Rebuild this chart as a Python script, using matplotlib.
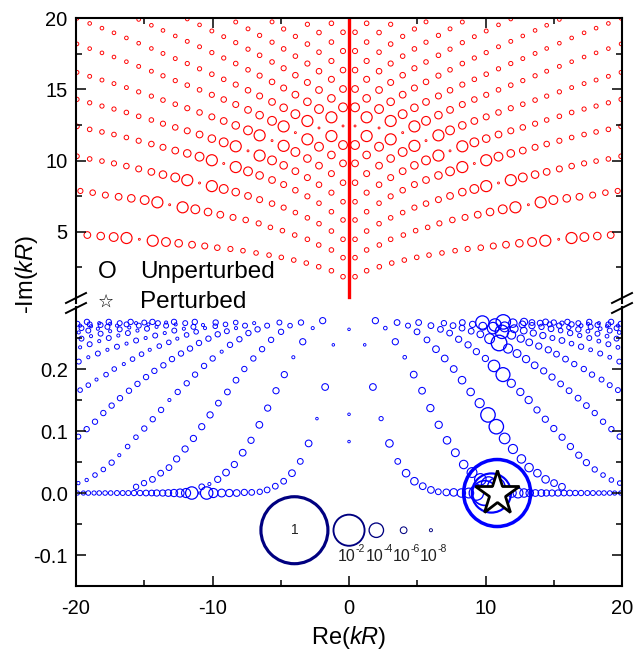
import numpy as np
import matplotlib
matplotlib.use("Agg")
import matplotlib.pyplot as plt
from matplotlib.lines import Line2D

plt.rcParams['font.family'] = ['Liberation Sans', 'DejaVu Sans']
plt.rcParams['mathtext.fontset'] = 'custom'
plt.rcParams['mathtext.rm'] = 'Liberation Sans'
plt.rcParams['mathtext.it'] = 'Liberation Sans:italic'
plt.rcParams['axes.unicode_minus'] = False

# ---------------- data ----------------
# Unperturbed modes (red). Right half only; the left half is its mirror image.
# y = -Im(kR), a = log10 of the mode weight (sets the bubble size)
red_grid_x = [0.44, 1.29, 2.2, 3.05, 3.93, 4.79, 5.64, 6.55, 7.4, 8.3, 9.18, 10.05,
              10.95, 11.85, 12.73, 13.63, 14.48, 15.41, 16.31, 17.22, 18.1, 19.0, 19.93]
red_x0 = [0.44, 1.29, 2.22, 3.13, 4.05, 4.96, 5.86, 6.81, 7.77, 8.69, 9.65, 10.57,
          11.5, 12.48, 13.41, 14.38, 15.36, 16.3, 17.24, 18.19, 19.17]
red_y0 = [1.83, 2.25, 2.53, 2.79, 3.0, 3.19, 3.35, 3.5, 3.66, 3.78, 3.87, 3.99,
          4.08, 4.18, 4.27, 4.36, 4.46, 4.55, 4.62, 4.69, 4.76]
red_a0 = [-7.0, -7.0, -7.0, -7.0, -7.0, -7.0, -7.0, -7.0, -7.0, -6.7, -6.5, -6.3,
          -6.0, -5.7, -5.3, -4.7, -9.2, -4.7, -5.3, -5.7, -6.0]
red_x1 = [0.44, 1.29, 2.22, 3.05, 3.98, 4.88, 5.76, 6.62, 7.57, 8.5, 9.43, 10.33,
          11.26, 12.19, 13.14, 14.04, 14.97, 15.95, 16.88, 17.85, 18.78, 19.68]
red_y1 = [3.17, 3.71, 4.06, 4.46, 4.76, 5.07, 5.3, 5.58, 5.82, 6.0, 6.19, 6.38,
          6.57, 6.71, 6.89, 7.06, 7.22, 7.34, 7.45, 7.57, 7.74, 7.86]
red_a1 = [-7.0, -7.0, -7.0, -7.0, -7.0, -7.0, -7.0, -6.7, -6.5, -6.3, -6.0, -5.7,
          -5.3, -4.7, -9.2, -4.7, -5.3, -5.7, -6.0, -6.3, -6.5, -6.7]
red_y2 = [4.46, 5.04, 5.56, 5.97, 6.34, 6.69, 6.97, 7.25, 7.51, 7.78, 8.0, 8.2,
          8.42, 8.62, 8.81, 9.01, 9.2, 9.41, 9.61, 9.8, 9.96, 10.11, 10.3]
red_a2 = [-7.0, -7.0, -7.0, -7.0, -7.0, -6.7, -6.5, -6.3, -6.0, -5.7, -5.3, -4.7,
          -9.2, -4.7, -5.3, -5.7, -6.0, -6.3, -6.5, -6.7, -7.0, -7.0, -7.0]
red_y3 = [5.82, 6.4, 7.0, 7.48, 7.91, 8.31, 8.63, 8.95, 9.24, 9.54, 9.79, 10.02,
          10.27, 10.5, 10.7, 10.93, 11.16, 11.39, 11.62, 11.83, 12.01, 12.19, 12.4]
red_a3 = [-7.0, -7.0, -7.0, -6.7, -6.5, -6.3, -6.0, -5.7, -5.3, -4.7, -9.2, -4.7,
          -5.3, -5.7, -6.0, -6.3, -6.5, -6.7, -7.0, -7.0, -7.0, -7.0, -7.0]
red_y4 = [7.1, 7.74, 8.3, 8.8, 9.25, 9.66, 10.01, 10.35, 10.68, 11.0, 11.28, 11.54,
          11.83, 12.09, 12.33, 12.59, 12.85, 13.11, 13.38, 13.62, 13.83, 14.06, 14.3]
red_a4 = [-7.0, -6.7, -6.5, -6.3, -6.0, -5.7, -5.3, -4.7, -9.2, -4.7, -5.3, -5.7,
          -6.0, -6.3, -6.5, -6.7, -7.0, -7.0, -7.0, -7.2, -7.2, -7.2, -7.2]
red_y5 = [8.44, 9.08, 9.64, 10.14, 10.6, 11.03, 11.4, 11.77, 12.12, 12.47, 12.78, 13.07,
          13.38, 13.68, 13.96, 14.25, 14.53, 14.83, 15.13, 15.41, 15.66, 15.92, 16.2]
red_a5 = [-6.5, -6.3, -6.0, -5.7, -5.3, -4.7, -9.2, -4.7, -5.3, -5.7, -6.0, -6.3,
          -6.5, -6.7, -7.0, -7.0, -7.2, -7.2, -7.4, -7.4, -7.4, -7.4, -7.4]
red_y6 = [9.8, 10.39, 10.97, 11.49, 11.96, 12.4, 12.79, 13.19, 13.56, 13.94, 14.29, 14.62,
          14.97, 15.3, 15.62, 15.96, 16.28, 16.62, 16.95, 17.28, 17.57, 17.87, 18.2]
red_a6 = [-6.0, -5.7, -5.3, -4.7, -9.2, -4.7, -5.3, -5.7, -6.0, -6.3, -6.5, -6.7,
          -7.0, -7.0, -7.2, -7.2, -7.4, -7.4, -7.6, -7.6, -7.6, -7.6, -7.6]
red_y7 = [11.09, 11.72, 12.29, 12.78, 13.26, 13.71, 14.12, 14.54, 14.94, 15.34, 15.71, 16.07,
          16.45, 16.82, 17.17, 17.53, 17.88, 18.25, 18.62, 18.98, 19.31, 19.64, 20.0]
red_a7 = [-5.3, -4.7, -9.2, -4.7, -5.3, -5.7, -6.0, -6.3, -6.5, -6.7, -7.0, -7.0,
          -7.2, -7.2, -7.4, -7.4, -7.6, -7.6, -7.6, -7.6, -7.6, -7.6, -7.6]
red_y8 = [12.43, 13.04, 13.62, 14.13, 14.63, 15.1, 15.53, 15.97, 16.38, 16.82, 17.21, 17.59,
          18.0, 18.38, 18.76, 19.15, 19.51, 19.92]
red_a8 = [-9.2, -4.7, -5.3, -5.7, -6.0, -6.3, -6.5, -6.7, -7.0, -7.0, -7.2, -7.2,
          -7.4, -7.4, -7.6, -7.6, -7.6, -7.6]
red_y9 = [13.74, 14.37, 14.96, 15.49, 16.0, 16.49, 16.93, 17.4, 17.83, 18.29, 18.71, 19.11,
          19.54, 19.95]
red_a9 = [-5.3, -5.7, -6.0, -6.3, -6.5, -6.7, -7.0, -7.0, -7.2, -7.2, -7.4, -7.4, -7.6, -7.6]
red_y10 = [15.03, 15.71, 16.28, 16.82, 17.34, 17.85, 18.32, 18.8, 19.26, 19.74]
red_a10 = [-6.0, -6.3, -6.5, -6.7, -7.0, -7.0, -7.2, -7.2, -7.4, -7.4]
red_y11 = [16.36, 17.0, 17.62, 18.19, 18.73, 19.25, 19.75]
red_a11 = [-6.5, -6.7, -7.0, -7.0, -7.2, -7.2, -7.4]
red_y12 = [17.7, 18.33, 19.0, 19.58]
red_a12 = [-6.7, -7.0, -7.0, -7.2]
red_y13 = [19.02, 19.65]
red_a13 = [-7.0, -7.0]
red_center_y = [0.42, 20.0]   # dense column of modes at Re(kR) = 0

# Perturbed modes (blue). Positions given for the left half, mirrored to the right;
# *_al = weights on the left, *_ar = weights of the mirrored points on the right
row_x = [-19.9, -19.46, -19.1, -18.68, -18.3, -17.87, -17.46, -17.0, -16.58, -16.17,
         -15.75, -15.31, -14.87, -14.46, -14.09, -13.65, -13.24, -12.82, -12.38, -11.94,
         -11.52, -10.97, -10.43, -9.94, -9.33, -8.77, -8.23, -7.67, -7.13, -6.54]
row_y = [0.0] * 27 + [0.001, 0.001, 0.002]
row_al = [-7.2, -7.2, -7.0, -7.2, -7.0, -7.0, -7.0, -6.8, -6.8, -6.8,
          -6.6, -6.6, -6.4, -6.4, -6.2, -6.2, -6.0, -5.8, -5.5, -5.2,
          -4.4, -9.0, -4.4, -5.2, -5.6, -5.8, -6.0, -6.2, -6.4, -6.6]
row_ar = [-7.2, -7.2, -7.0, -7.0, -7.0, -6.8, -6.8, -6.6, -6.6, -6.4,
          -6.4, -6.2, -6.2, -6.2, -6.0, -6.0, -5.7, -5.4, -5.0, -5.4,
          -6.0, -9.0, -1.4, -2.6, -4.0, -5.0, -5.4, -5.7, -6.0, -6.4]

b5_x = [-6.0, -5.4, -4.79, -4.18, -3.57, -2.96, -2.35, -1.75, -1.15]
b5_y = [0.005, 0.011, 0.019, 0.032, 0.051, 0.08, 0.12, 0.171, 0.239]
b5_al = [-6.4, -6.4, -6.4, -6.0, -6.4, -6.0, -8.5, -6.0, -8.5]
b5_ar = [-6.0, -6.0, -5.7, -5.7, -6.4, -5.7, -7.2, -6.0, -8.5]

b4_x = [-10.79, -10.23, -9.62, -9.01, -8.4, -7.79, -7.18, -6.57, -5.96, -5.35, -4.74,
        -4.08, -3.39, -2.66, -1.93]
b4_y = [0.01, 0.0145, 0.022, 0.033, 0.046, 0.065, 0.085, 0.11, 0.137, 0.165, 0.191,
        0.219, 0.244, 0.266, 0.278]
b4_al = [-6.4, -8.0, -6.2, -6.0, -6.2, -6.0, -6.2, -6.0, -6.2, -6.2, -6.2, -8.0, -6.2, -8.0, -6.2]
b4_ar = [-3.5, -4.0, -4.6, -5.0, -5.4, -5.6, -5.7, -5.8, -5.8, -6.0, -6.0, -7.6, -6.2, -7.6, -6.2]

b3_x = [-15.6, -15.02, -14.4, -13.8, -13.19, -12.63, -12.01, -11.4, -10.79, -10.18,
        -9.57, -8.91, -8.28, -7.67, -7.01, -6.37, -5.71, -4.98, -4.32, -3.52]
b3_y = [0.01, 0.016, 0.022, 0.032, 0.041, 0.055, 0.071, 0.088, 0.107, 0.126,
        0.145, 0.163, 0.182, 0.2, 0.217, 0.232, 0.247, 0.26, 0.27, 0.275]
b3_al = [-6.6, -6.6, -6.4, -6.4, -6.4, -6.2, -6.2, -6.2, -6.2, -6.2,
         -6.4, -6.4, -6.4, -6.6, -6.6, -6.6, -6.6, -6.6, -7.0, -6.6]
b3_ar = [-6.0, -6.0, -5.7, -5.7, -5.4, -5.4, -5.2, -4.8, -4.0, -4.0,
         -5.2, -5.7, -5.7, -6.0, -6.0, -6.0, -6.4, -6.4, -6.8, -6.4]

b2_x = [-19.83, -19.22, -18.61, -18.0, -17.39, -16.83, -16.22, -15.61, -15.0, -14.38,
        -13.77, -13.16, -12.55, -11.89, -11.28, -10.62, -9.99, -9.33, -8.72, -8.03,
        -7.37, -6.7, -6.0, -5.1]
b2_y = [0.016, 0.021, 0.029, 0.038, 0.049, 0.061, 0.075, 0.09, 0.104, 0.119,
        0.134, 0.15, 0.163, 0.177, 0.191, 0.205, 0.217, 0.228, 0.239, 0.248,
        0.258, 0.264, 0.27, 0.275]
b2_al = [-7.8, -7.8, -7.0, -7.0, -6.6, -8.0, -7.0, -7.0, -6.6, -6.6,
         -6.6, -8.0, -6.6, -6.6, -6.6, -6.6, -6.6, -8.0, -6.6, -6.6,
         -6.6, -6.6, -6.8, -6.8]
b2_ar = [-7.0, -7.0, -7.0, -6.6, -6.2, -6.2, -6.2, -6.2, -6.2, -6.2,
         -6.2, -5.8, -5.8, -5.5, -4.1, -4.6, -6.2, -6.2, -6.2, -6.2,
         -6.4, -6.4, -6.4, -6.4]

b1_x = [-19.83, -19.22, -18.61, -18.0, -17.39, -16.78, -16.12, -15.5, -14.87, -14.26,
        -13.6, -12.97, -12.31, -11.65, -10.99, -10.3, -9.62, -8.95, -8.28, -7.62, -6.95]
b1_y = [0.091, 0.103, 0.115, 0.129, 0.141, 0.153, 0.165, 0.176, 0.187, 0.197,
        0.206, 0.216, 0.225, 0.233, 0.242, 0.249, 0.256, 0.261, 0.266, 0.27, 0.274]
b1_al = [-6.8, -6.6, -6.6, -6.6, -6.6, -6.6, -6.6, -6.6, -6.6, -6.6,
         -6.6, -6.6, -6.6, -6.6, -6.6, -6.6, -6.6, -6.8, -8.0, -6.8, -8.0]
b1_ar = [-6.6, -6.6, -6.6, -6.6, -6.4, -6.4, -6.4, -6.4, -6.2, -6.2,
         -6.0, -5.8, -5.6, -5.2, -3.8, -5.0, -6.0, -6.4, -6.4, -6.4, -6.6]

b0_x = [-19.7, -19.1, -18.5, -17.8, -17.2, -16.5, -15.86, -15.2, -14.6, -13.9,
        -13.2, -12.58, -11.9, -11.2, -10.55, -9.8, -9.05, -8.3]
b0_y = [0.166, 0.174, 0.183, 0.191, 0.2, 0.208, 0.216, 0.224, 0.231, 0.237,
        0.243, 0.249, 0.255, 0.26, 0.266, 0.269, 0.272, 0.275]
b0_al = [-7.0, -7.0, -8.0, -7.0, -7.0, -8.0, -7.0, -7.0, -8.0, -7.0,
         -7.0, -8.0, -7.0, -7.0, -8.0, -7.0, -7.0, -7.0]
b0_ar = [-6.8, -6.8, -6.8, -6.6, -6.6, -6.6, -6.4, -6.4, -6.2, -6.2,
         -6.0, -5.8, -5.4, -4.2, -4.6, -5.6, -6.2, -6.4]

# branches packed close under the Im(kR) ~ 0.28 limit
u1_x = [-19.8, -19.1, -18.4, -17.7, -17.0, -16.3, -15.6, -14.9, -14.2, -13.5, -12.8,
        -12.1, -11.4, -10.7, -9.77]
u1_y = [0.212, 0.219, 0.225, 0.231, 0.236, 0.241, 0.246, 0.25, 0.254, 0.258, 0.262,
        0.265, 0.268, 0.271, 0.275]
u1_al = [-6.8, -8.0, -6.8, -8.0, -6.8, -8.0, -6.8, -8.0, -6.8, -8.0, -6.8, -8.0, -6.8, -8.0, -6.6]
u1_ar = [-6.8, -7.5, -6.8, -7.5, -6.6, -7.0, -6.4, -6.8, -6.2, -6.2, -6.0, -5.6, -5.0, -4.4, -4.2]
u2_x = [-19.7, -19.0, -18.3, -17.6, -16.9, -16.2, -15.5, -14.8, -14.1, -13.4, -12.7,
        -12.0, -11.3]
u2_y = [0.235, 0.24, 0.245, 0.25, 0.254, 0.258, 0.262, 0.265, 0.268, 0.27, 0.272,
        0.274, 0.276]
u2_al = [-8.0, -6.8, -8.0, -6.8, -8.0, -6.8, -8.0, -6.8, -8.0, -6.8, -8.0, -6.8, -6.6]
u2_ar = [-7.5, -6.8, -7.5, -6.8, -7.2, -6.6, -7.0, -6.4, -6.6, -6.2, -6.0, -5.4, -4.0]
u3_x = [-19.6, -18.9, -18.2, -17.5, -16.8, -16.1, -15.4, -14.7, -14.0, -13.4, -12.82]
u3_y = [0.249, 0.253, 0.257, 0.261, 0.264, 0.267, 0.27, 0.272, 0.274, 0.275, 0.276]
u3_al = [-6.8, -8.0, -6.8, -8.0, -6.8, -8.0, -6.8, -8.0, -6.8, -8.0, -6.6]
u3_ar = [-6.8, -7.5, -6.8, -7.5, -6.6, -7.2, -6.6, -6.8, -6.4, -6.4, -5.8]
u4_x = [-19.8, -19.1, -18.4, -17.7, -17.0, -16.3, -15.6, -15.0, -14.4]
u4_y = [0.259, 0.262, 0.265, 0.268, 0.27, 0.272, 0.274, 0.275, 0.276]
u4_al = [-8.0, -6.8, -8.0, -6.8, -8.0, -6.8, -8.0, -6.8, -6.6]
u4_ar = [-7.5, -6.8, -7.5, -6.8, -7.5, -6.6, -7.2, -6.6, -6.4]
u5_x = [-19.6, -18.9, -18.2, -17.5, -16.8, -16.0]
u5_y = [0.266, 0.269, 0.271, 0.273, 0.274, 0.276]
u5_al = [-6.8, -8.0, -6.8, -8.0, -6.8, -6.6]
u6_x = [-19.7, -19.0, -18.3, -17.6]
u6_y = [0.27, 0.272, 0.274, 0.276]
u6_al = [-8.0, -6.8, -8.0, -6.6]
u7_x = [-19.9, -19.2]
u7_y = [0.273, 0.276]
u7_al = [-6.8, -6.6]

center_x = [0.0, 0.0, 0.0]
center_y = [0.083, 0.127, 0.264]
center_a = [-8.5, -8.5, -8.5]

# the perturbed mode picked out with a star
mark_x = [10.85]
mark_y = [0.0]
mark_a = [0]

# bubble size key
key_x = [-4.0, 0.0, 2.0, 4.0, 6.0]
key_y = [-0.06, -0.06, -0.06, -0.06, -0.06]
key_a = [0, -2, -4, -6, -8]
key_exp = ['-2', '-4', '-6', '-8']


def bubble(a):
    d = 67.0 * 10 ** (np.asarray(a, dtype=float) / 6.0)   # diameter in px
    return (d * 0.72) ** 2, (0.8 + 0.035 * d) * 0.72


def draw(ax, x, y, a, color, **kw):
    s, lw = bubble(a)
    ax.scatter(x, y, s=s, facecolors='none', edgecolors=color, linewidths=lw, **kw)


fig = plt.figure(figsize=(6.41, 6.52), dpi=100)
ax_top = fig.add_axes([0.1186, 0.5357, 0.8518, 0.4362])
ax_bot = fig.add_axes([0.1186, 0.1012, 0.8518, 0.4279])

for ax in (ax_top, ax_bot):
    ax.set_xlim(-20, 20)
    for sp in ax.spines.values():
        sp.set_linewidth(1.5)
    ax.tick_params(which='both', direction='in', top=True, right=True,
                   width=1.1, labelsize=14.5)
    ax.tick_params(axis='y', pad=6)
    ax.tick_params(axis='x', pad=9)
    ax.tick_params(which='major', length=7.5)
    ax.tick_params(which='minor', length=4)
    ax.set_xticks([-20, -10, 0, 10, 20])
    ax.set_xticks([-15, -5, 5, 15], minor=True)

# ---- top panel: unperturbed ----
ax_top.set_ylim(0, 20)
ax_top.set_yticks([5, 10, 15, 20])
ax_top.set_yticks([2.5, 7.5, 12.5, 17.5], minor=True)
ax_top.spines['bottom'].set_visible(False)
ax_top.tick_params(which='both', bottom=False, labelbottom=False)

red_branches = [(red_x0, red_y0, red_a0), (red_x1, red_y1, red_a1)]
for by, ba in [(red_y2, red_a2), (red_y3, red_a3), (red_y4, red_a4), (red_y5, red_a5),
               (red_y6, red_a6), (red_y7, red_a7), (red_y8, red_a8), (red_y9, red_a9),
               (red_y10, red_a10), (red_y11, red_a11), (red_y12, red_a12),
               (red_y13, red_a13)]:
    red_branches.append((red_grid_x[:len(by)], by, ba))

ax_top.plot([0, 0], red_center_y, color='red', lw=2.4)
for bx, by, ba in red_branches:
    bx = np.asarray(bx)
    draw(ax_top, bx, by, ba, 'red')
    draw(ax_top, -bx, by, ba, 'red')

# ---- bottom panel: perturbed ----
ax_bot.set_ylim(-0.15, 0.3)
ax_bot.set_yticks([-0.1, 0.0, 0.1, 0.2])
ax_bot.set_yticks([-0.05, 0.05, 0.15, 0.25], minor=True)
ax_bot.set_yticklabels(['-0.1', '0.0', '0.1', '0.2'])
ax_bot.set_xticklabels(['-20', '-10', '0', '10', '20'])
ax_bot.spines['top'].set_visible(False)
ax_bot.tick_params(which='both', top=False)

blue_branches = [
    (row_x, row_y, row_al, row_ar), (b5_x, b5_y, b5_al, b5_ar),
    (b4_x, b4_y, b4_al, b4_ar), (b3_x, b3_y, b3_al, b3_ar),
    (b2_x, b2_y, b2_al, b2_ar), (b1_x, b1_y, b1_al, b1_ar),
    (b0_x, b0_y, b0_al, b0_ar), (u1_x, u1_y, u1_al, u1_ar),
    (u2_x, u2_y, u2_al, u2_ar), (u3_x, u3_y, u3_al, u3_ar),
    (u4_x, u4_y, u4_al, u4_ar), (u5_x, u5_y, u5_al, u5_al),
    (u6_x, u6_y, u6_al, u6_al), (u7_x, u7_y, u7_al, u7_al),
]
for bx, by, al, ar in blue_branches:
    bx = np.asarray(bx)
    draw(ax_bot, bx, by, al, 'blue')
    draw(ax_bot, -bx, by, ar, 'blue')
draw(ax_bot, center_x, center_y, center_a, 'blue')

# marked perturbed mode
s, lw = bubble(mark_a)
ax_bot.scatter(mark_x, mark_y, s=s, facecolors='none', edgecolors='blue',
               linewidths=3.5 * 0.72, zorder=4)
ax_bot.plot(mark_x, mark_y, marker='*', ms=33, mfc='white', mec='black',
            mew=2.0, ls='none', zorder=5)

# bubble size key
s, lw = bubble(key_a)
ax_bot.scatter(key_x, key_y, s=s, facecolors='none', edgecolors='#000080',
               linewidths=lw, zorder=3)
ax_bot.text(key_x[0], key_y[0], '1', ha='center', va='center', fontsize=10,
            color='#222222')
for x, e in zip(key_x[1:], key_exp):
    ax_bot.text(x + 0.5, -0.103, '10', ha='right', va='center', fontsize=11.5,
                color='#222222')
    ax_bot.text(x + 0.5, -0.091, e, ha='left', va='center', fontsize=7.5,
                color='#222222')

ax_bot.set_xlabel('Re($\\mathit{kR}$)', fontsize=17, labelpad=5)
fig.text(0.042, 0.58, '-Im($\\mathit{kR}$)', rotation=90, fontsize=17,
         ha='center', va='center')

# legend
fig.text(0.153, 0.583, 'O', fontsize=17.5, ha='left', va='center')
fig.text(0.218, 0.583, 'Unperturbed', fontsize=17.5, ha='left', va='center')
fig.text(0.165, 0.537, '\u2606', fontsize=13, ha='center', va='center',
         family='DejaVu Sans')
fig.text(0.218, 0.537, 'Perturbed', fontsize=17.5, ha='left', va='center')

# axis break marks
W, H = 641, 652
for xp in (76, 622):
    for yp in (298, 308):
        fig.add_artist(Line2D([(xp - 10) / W, (xp + 10) / W],
                              [1 - (yp + 5) / H, 1 - (yp - 5) / H],
                              color='black', lw=1.4))

fig.savefig('out.png', dpi=100)
